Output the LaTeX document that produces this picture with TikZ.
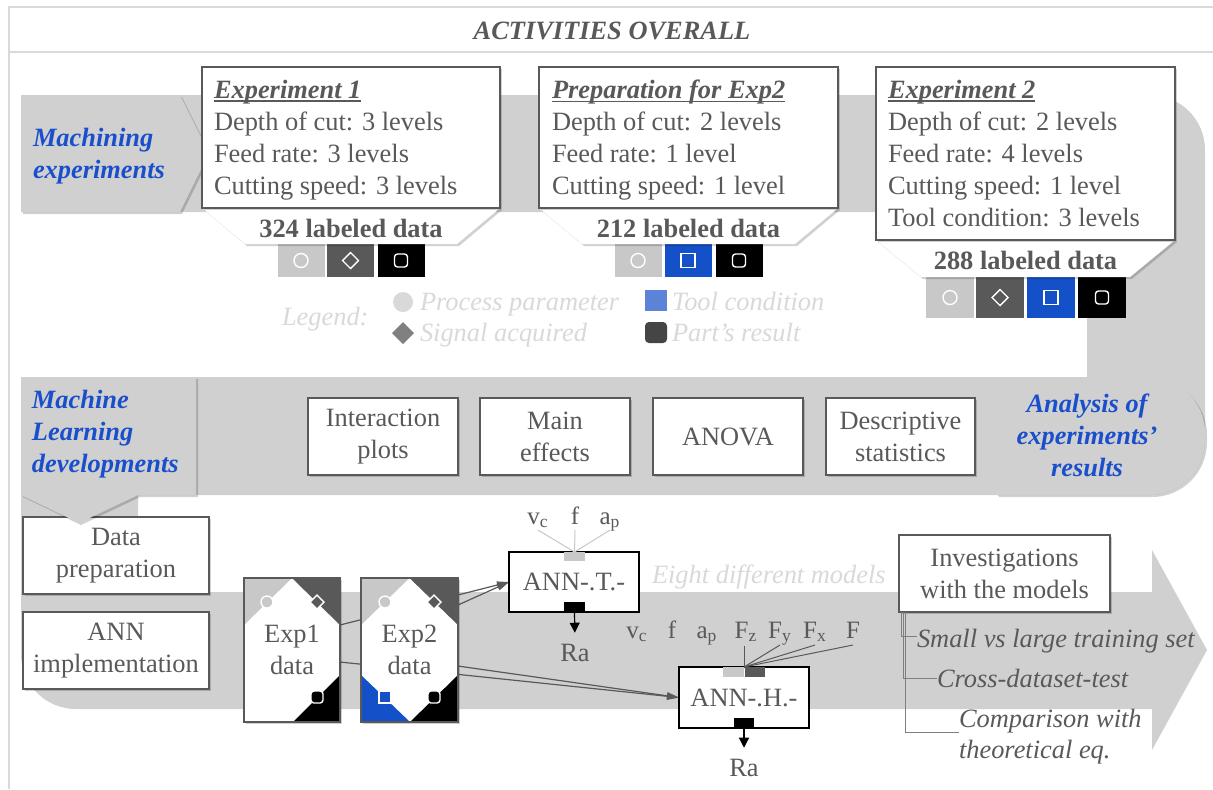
\documentclass[tikz,border=0pt]{standalone}
\usepackage{fontspec}
\setmainfont{Liberation Serif}
\usetikzlibrary{shadows,arrows.meta,calc}
\pgfdeclarelayer{back}
\pgfdeclarelayer{mid}
\pgfsetlayers{back,mid,main}
\definecolor{bandgray}{HTML}{D0D0D0}
\definecolor{tgray}{HTML}{595959}
\definecolor{lgray}{HTML}{D9D9D9}
\definecolor{swlight}{HTML}{C8C8C8}
\definecolor{swdark}{HTML}{595959}
\definecolor{swblue}{HTML}{1450C8}
\definecolor{legblue}{HTML}{5B84D6}
\definecolor{legdark}{HTML}{454545}
\definecolor{legdia}{HTML}{808080}
\definecolor{mlblue}{HTML}{1A4FCC}
\definecolor{treegray}{HTML}{7F7F7F}
\newcommand{\mainfs}{\fontsize{13.2}{16}\selectfont}
\newcommand{\inputfs}{\fontsize{12.5}{14}\selectfont}
\newcommand{\myul}[1]{{\setbox0\hbox{#1}\rlap{\vrule height -1pt depth 1.8pt width \wd0}\box0}}
\newcommand{\mycirc}[3]{\draw[symline,fill=#3] (#1) circle[radius=#2];}
\newcommand{\mydiam}[3]{\draw[symline,fill=#3] ($(#1)+(0,-#2)$) -- ++(#2,#2) -- ++(-#2,#2) -- ++(-#2,-#2) -- cycle;}
\newcommand{\mysq}[4]{\draw[symline,fill=#3,#4] ($(#1)+(-#2,-#2)$) rectangle ++(2*#2,2*#2);}
\begin{document}
\begin{tikzpicture}[x=0.5pt,y=-0.5pt,
  every node/.style={font=\mainfs, text=tgray, inner sep=0pt, outer sep=0pt},
  shad/.style={drop shadow={shadow xshift=1pt,shadow yshift=-1pt,opacity=0.18,fill=black}},
  wbox/.style={draw=tgray, line width=0.7pt, fill=white, shad},
  annbox/.style={draw=black, line width=1pt, fill=white, minimum width=65pt, minimum height=30pt},
  swA/.style={minimum width=23.5pt, minimum height=16.5pt},
  swB/.style={minimum width=24pt, minimum height=20.5pt},
  symline/.style={draw=white, line width=0.7pt},
  conn/.style={draw=tgray, line width=0.6pt, -{Triangle[length=6pt,width=3.5pt]}},
  raarrow/.style={draw=black, line width=0.6pt, -{Triangle[length=5pt,width=5pt]}, shorten >=5.5pt},
  treeline/.style={draw=treegray, line width=0.4pt},
  frameline/.style={draw=lgray, line width=1pt},
  bluetag/.style={font=\mainfs\bfseries\itshape, text=mlblue},
  legtext/.style={font=\mainfs\itshape, text=lgray},
  tab/.style={fill=white, shad}
]
\useasboundingbox (0,0) rectangle (1213,789);
\begin{pgfonlayer}{back}
\fill[white] (0,0) rectangle (1213,789);
\fill[bandgray] (21,95) -- (1150,95) arc[start angle=-90,end angle=0,radius=55]
  -- (1205,440) arc[start angle=0,end angle=90,radius=55]
  -- (138,495) -- (138,592) -- (1152,592) -- (1152,550) -- (1207,650) -- (1152,750)
  -- (1152,709) -- (76,709) arc[start angle=90,end angle=180,radius=55]
  -- (21,377) -- (1087,377) -- (1087,212) -- (21,212) -- cycle;
\end{pgfonlayer}

% frame and title
\draw[frameline] (1213,7) -- (9,7) -- (9,789);
\draw[frameline] (9,52) -- (1213,52);
\node[anchor=base, font=\mainfs\bfseries\itshape] (title) at (612,39) {ACTIVITIES OVERALL};

% tags
\fill[bandgray, shad] (21,95) -- (180,95) -- (209,153) -- (180,212) -- (21,212) -- cycle;
\node[bluetag, anchor=west, align=left] (machtxt) at (33,156) {Machining\\experiments};
\fill[bandgray, shad] (997,378) -- (1150,378) arc[start angle=-90,end angle=0,radius=55]
  -- (1205,440) arc[start angle=0,end angle=90,radius=55] -- (997,495) -- (967,437) -- cycle;
\node[bluetag, align=center] (anatxt) at (1087,435) {Analysis of\\experiments’\\results};

% swatches
\node[swA, fill=swlight] (s1a) at (301,260.5) {};
\node[swA, fill=swdark] (s1b) at (350.5,260.5) {};
\node[swA, fill=black] (s1c) at (401,260.5) {};
\mycirc{s1a.center}{7}{swlight}
\mydiam{s1b.center}{8}{swdark}
\mysq{s1c.center}{6.5}{black}{rounded corners=1.5pt}
\node[swA, fill=swlight] (s2a) at (638,260.5) {};
\node[swA, fill=swblue] (s2b) at (688,260.5) {};
\node[swA, fill=black] (s2c) at (739,260.5) {};
\mycirc{s2a.center}{7}{swlight}
\mysq{s2b.center}{7}{swblue}{}
\mysq{s2c.center}{6.5}{black}{rounded corners=1.5pt}
\node[swB, fill=swlight] (s3a) at (950,297.5) {};
\node[swB, fill=swdark] (s3b) at (1000,297.5) {};
\node[swB, fill=swblue] (s3c) at (1051,297.5) {};
\node[swB, fill=black] (s3d) at (1102,297.5) {};
\mycirc{s3a.center}{7}{swlight}
\mydiam{s3b.center}{8}{swdark}
\mysq{s3c.center}{7}{swblue}{}
\mysq{s3d.center}{6.5}{black}{rounded corners=1.5pt}

% experiment boxes
\fill[tab] (202,208) -- (500,208) -- (457,244) -- (245,244) -- cycle;
\node[wbox, anchor=north west, minimum width=149pt, minimum height=70.5pt] (exp1) at (202,67) {};
\node[anchor=north west, align=left] (te1) at (214,80) {\myul{\textbf{\textit{Experiment 1}}}\\Depth of cut: 3 levels\\Feed rate: 3 levels\\Cutting speed: 3 levels};
\node[anchor=base, font=\mainfs\bfseries] (n1) at (351,237) {324 labeled data};

\fill[tab] (539,208) -- (838,208) -- (795,244) -- (582,244) -- cycle;
\node[wbox, anchor=north west, minimum width=149.5pt, minimum height=70.5pt] (prep) at (539,67) {};
\node[anchor=north west, align=left] (tp) at (552,80) {\myul{\textbf{\textit{Preparation for Exp2}}}\\Depth of cut: 2 levels\\Feed rate: 1 level\\Cutting speed: 1 level};
\node[anchor=base, font=\mainfs\bfseries] (n2) at (688.5,237) {212 labeled data};

\fill[tab] (876,240) -- (1175,240) -- (1130,277) -- (921,277) -- cycle;
\node[wbox, anchor=north west, minimum width=149.5pt, minimum height=86.5pt] (exp2) at (876,67) {};
\node[anchor=north west, align=left] (te2) at (888,80) {\myul{\textbf{\textit{Experiment 2}}}\\Depth of cut: 2 levels\\Feed rate: 4 levels\\Cutting speed: 1 level\\Tool condition: 3 levels};
\node[anchor=base, font=\mainfs\bfseries] (n3) at (1025.5,269) {288 labeled data};

% legend
\node[legtext, anchor=base west] (leg) at (282,325) {Legend:};
\fill[lgray] (403,302) circle[radius=10];
\fill[legdia] (403,322) -- (414,333) -- (403,344) -- (392,333) -- cycle;
\fill[legblue] (645,290) rectangle (667,311);
\fill[legdark, rounded corners=2pt] (645,322) rectangle (667,343);
\node[legtext, anchor=base west] (lg1) at (420,310) {Process parameter};
\node[legtext, anchor=base west] (lg2) at (420,341) {Signal acquired};
\node[legtext, anchor=base west] (lg3) at (672,310) {Tool condition};
\node[legtext, anchor=base west] (lg4) at (672,341) {Part’s result};

% analysis boxes
\node[wbox, minimum width=75pt, minimum height=38.5pt, align=center] (ip) at (383,436.5) {Interaction\\plots};
\node[wbox, minimum width=75pt, minimum height=38.5pt, align=center] (me) at (555,436.5) {Main\\effects};
\node[wbox, minimum width=75pt, minimum height=38.5pt, align=center] (anova) at (728,436.5) {ANOVA};
\node[wbox, minimum width=74.5pt, minimum height=38.5pt, align=center] (ds) at (900.5,436.5) {Descriptive\\statistics};

% ML side
\node[wbox, minimum width=93pt, minimum height=38.5pt, align=center] (dp) at (116,555.5) {Data\\preparation};
\node[wbox, minimum width=93pt, minimum height=38.5pt, align=center] (ai) at (116,650.5) {ANN\\implementation};
\fill[bandgray, shad] (21,377) -- (196,377) -- (196,495) -- (138,495) -- (79,523) -- (21,495) -- cycle;
\node[bluetag, anchor=west, align=left] (mltxt) at (32,434) {Machine\\Learning\\developments};

% data boxes
\node[wbox, minimum width=48pt, minimum height=72pt, align=center] (e1d) at (292,650) {Exp1\\data};
\fill[swlight] (244,578) -- (292,578) -- (244,625) -- cycle;
\fill[swdark] (292,578) -- (340,578) -- (340,625) -- cycle;
\fill[black] (340,675) -- (340,722) -- (293,722) -- cycle;
\mycirc{267,602}{6}{swlight}
\mydiam{317,602}{7}{swdark}
\mysq{317,697}{6}{black}{rounded corners=1.5pt}
\draw[tgray, line width=0.7pt] (e1d.north west) rectangle (e1d.south east);

\node[wbox, minimum width=48.5pt, minimum height=72pt, align=center] (e2d) at (409.5,650) {Exp2\\data};
\fill[swlight] (361,578) -- (409.5,578) -- (361,625) -- cycle;
\fill[swdark] (409.5,578) -- (458,578) -- (458,625) -- cycle;
\fill[swblue] (361,675) -- (361,722) -- (410,722) -- cycle;
\fill[black] (458,675) -- (458,722) -- (410,722) -- cycle;
\mycirc{385,602}{6}{swlight}
\mydiam{434,602}{7}{swdark}
\mysq{385,697}{6}{swblue}{}
\mysq{434,697}{6}{black}{rounded corners=1.5pt}
\draw[tgray, line width=0.7pt] (e2d.north west) rectangle (e2d.south east);

% ANN boxes
\node[annbox] (annT) at (574,582) {ANN-.T.-};
\node[fill=swlight, minimum width=10.5pt, minimum height=4.5pt, anchor=north] (tinT) at (574.5,552) {};
\node[fill=black, minimum width=10.5pt, minimum height=5pt, anchor=south] (toutT) at (574.5,612) {};
\node[anchor=base] (raT) at (575,661) {Ra};
\draw[raarrow] (toutT.south) -- (raT.north);
\node[anchor=base, font=\inputfs] (vcT) at (538,524) {v\textsubscript{c}};
\node[anchor=base, font=\inputfs] (fT) at (575,524) {f};
\node[anchor=base, font=\inputfs] (apT) at (610,524) {a\textsubscript{p}};
\draw[swlight, line width=0.5pt] (tinT.north) -- ([yshift=-3pt]vcT.base);
\draw[swlight, line width=0.5pt] (tinT.north) -- ([yshift=-3pt]fT.base);
\draw[swlight, line width=0.5pt] (tinT.north) -- ([yshift=-3pt]apT.base);

\node[legtext, anchor=base west] (eight) at (652,583) {Eight different models};

\node[annbox, minimum height=30.5pt] (annH) at (744,697.5) {ANN-.H.-};
\node[fill=swlight, minimum width=10.5pt, minimum height=5pt, anchor=north east] (tinH) at (744,667) {};
\node[fill=swdark, minimum width=10pt, minimum height=5pt, anchor=north west] (tdH) at (745,667) {};
\node[fill=black, minimum width=10pt, minimum height=5pt, anchor=south] (toutH) at (744,728) {};
\node[anchor=base] (raH) at (744,776) {Ra};
\draw[raarrow] (toutH.south) -- (raH.north);
\node[anchor=base, font=\inputfs] (vcH) at (637,638) {v\textsubscript{c}};
\node[anchor=base, font=\inputfs] (fH) at (672,638) {f};
\node[anchor=base, font=\inputfs] (apH) at (707,638) {a\textsubscript{p}};
\node[anchor=base, font=\inputfs] (FzH) at (746,638) {F\textsubscript{z}};
\node[anchor=base, font=\inputfs] (FyH) at (780,638) {F\textsubscript{y}};
\node[anchor=base, font=\inputfs] (FxH) at (815,638) {F\textsubscript{x}};
\node[anchor=base, font=\inputfs] (FH) at (853,638) {F};
\draw[tgray, line width=0.5pt] (tinH.north east) -- ([yshift=-4pt]FzH.base -| tinH.north east);
\draw[tgray, line width=0.5pt] (tinH.north east) -- ([yshift=-3.5pt]FyH.base);
\draw[tgray, line width=0.5pt] (tinH.north east) -- ([yshift=-3.5pt]FxH.base);
\draw[tgray, line width=0.5pt] (tinH.north east) -- ([yshift=-3.5pt]FH.base);

% connectors data -> ANN
\begin{pgfonlayer}{mid}
\draw[conn] ($(e1d.east)+(0,-25)$) -- (annT.west);
\draw[conn] ($(e2d.east)+(0,-45)$) -- (annT.west);
\draw[conn] ($(e1d.east)+(0,12)$) -- (annH.west);
\draw[conn] ($(e2d.east)+(0,16)$) -- (annH.west);
\end{pgfonlayer}

% investigations
\node[wbox, minimum width=105.5pt, minimum height=38.5pt, align=center] (inv) at (1004.5,573.5) {Investigations\\with the models};
\node[anchor=base west, font=\mainfs\itshape] (t1) at (917,647) {Small vs large training set};
\node[anchor=base west, font=\mainfs\itshape] (t2) at (937,687) {Cross-dataset-test};
\node[anchor=base west, font=\mainfs\itshape] (t3a) at (959,727) {Comparison with};
\node[anchor=base west, font=\mainfs\itshape] (t3b) at (959,758) {theoretical eq.};
\draw[treeline] ([xshift=1pt]inv.south west) |- ([yshift=2pt]t1.west);
\draw[treeline] ([xshift=2pt]inv.south west) |- (t2.west);
\draw[treeline] ([xshift=3pt]inv.south west) |- (t3a.south west);
\end{tikzpicture}
\end{document}
